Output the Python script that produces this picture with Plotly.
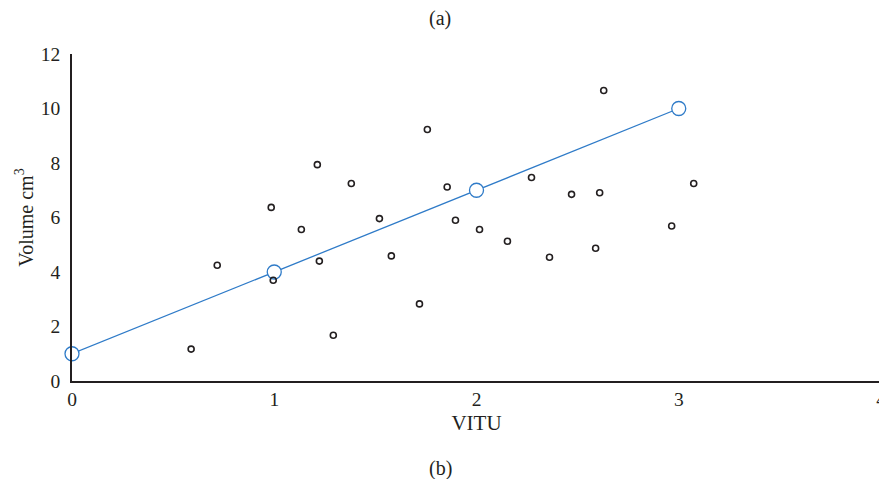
import plotly.graph_objects as go

# Observed data (VITU vs volume)
obs_x = [0.589, 0.718, 0.985, 0.995, 1.134, 1.213, 1.223, 1.292, 1.381, 1.520,
         1.579, 1.718, 1.757, 1.855, 1.896, 2.015, 2.153, 2.272, 2.361, 2.470,
         2.589, 2.609, 2.629, 2.965, 3.074]
obs_y = [1.17, 4.25, 6.37, 3.70, 5.56, 7.94, 4.40, 1.68, 7.25, 5.96,
         4.59, 2.83, 9.23, 7.12, 5.90, 5.56, 5.13, 7.47, 4.54, 6.85,
         4.87, 6.91, 10.66, 5.69, 7.25]

# Fitted line
fit_x = [0, 1, 2, 3]
fit_y = [1, 4, 7, 10]

x_ticks = [0, 1, 2, 3, 4]
y_ticks = [0, 2, 4, 6, 8, 10, 12]

FONT = "Liberation Serif"
TXT = "#231f20"
BLUE = "#2f7bc8"

fig = go.Figure()
fig.add_trace(go.Scatter(
    x=fit_x, y=fit_y, mode="lines+markers",
    line=dict(color=BLUE, width=1.3),
    marker=dict(symbol="circle", size=14, color="white",
                line=dict(color=BLUE, width=1.3)),
    showlegend=False, cliponaxis=False,
))
fig.add_trace(go.Scatter(
    x=obs_x, y=obs_y, mode="markers",
    marker=dict(symbol="circle-open", size=6, color=TXT,
                line=dict(color=TXT, width=1.6)),
    showlegend=False, cliponaxis=False,
))

W, TOP, BOT, LEFT = 881, 54, 98, 72
ph = 479 - TOP - BOT
pw = W - LEFT

fig.update_layout(
    width=W, height=479,
    margin=dict(l=LEFT, r=0, t=TOP, b=BOT),
    paper_bgcolor="white", plot_bgcolor="white",
    font=dict(family=FONT, size=19.5, color=TXT),
    xaxis=dict(range=[0, 4], tickvals=x_ticks, showgrid=False, zeroline=False,
               showline=True, linecolor=TXT, linewidth=1.5, ticks="",
               ticklabeloverflow="allow", automargin=False,
               tickfont=dict(family=FONT, size=19.5, color=TXT),
               title=dict(text="VITU", font=dict(family=FONT, size=21, color=TXT),
                          standoff=6)),
    yaxis=dict(range=[0, 12], tickvals=y_ticks, showgrid=False, zeroline=False,
               showline=True, linecolor=TXT, linewidth=1.5, ticks="",
               ticklabelstandoff=6, automargin=False,
               tickfont=dict(family=FONT, size=19.5, color=TXT),
               title=dict(text="Volume cm<sup>3</sup>",
                          font=dict(family=FONT, size=20, color=TXT),
                          standoff=2)),
    annotations=[
        dict(text="(a)", x=(440 - LEFT) / pw, y=1 + (TOP - 18) / ph, xref="paper", yref="paper",
             showarrow=False, yanchor="middle",
             font=dict(family=FONT, size=20, color=TXT)),
        dict(text="(b)", x=(440 - LEFT) / pw, y=-(469 - (479 - BOT)) / ph, xref="paper", yref="paper",
             showarrow=False, yanchor="middle",
             font=dict(family=FONT, size=20, color=TXT)),
    ],
)

fig.write_html("out.html", config={"displayModeBar": False},
               post_script="document.body.style.margin='0px';document.body.style.overflow='hidden';document.documentElement.style.overflow='hidden';")
